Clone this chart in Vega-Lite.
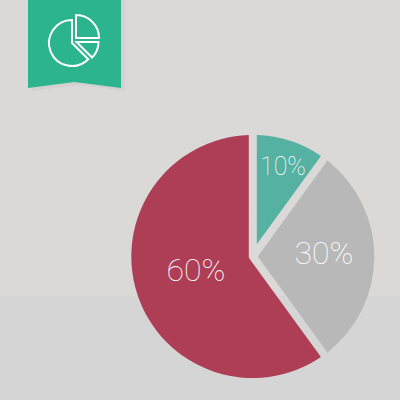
{
  "$schema": "https://vega.github.io/schema/vega-lite/v6.json",
  "description": "Pie chart 60/30/10 with ribbon icon",
  "width": 400,
  "height": 400,
  "padding": 0,
  "autosize": {"type": "fit", "contains": "padding"},
  "background": "#dad9d7",
  "config": {"view": {"stroke": null}},
  "datasets": {
    "shares": [
      {"label": "10%", "share": 10, "from": 0, "to": 10},
      {"label": "30%", "share": 30, "from": 10, "to": 40},
      {"label": "60%", "share": 60, "from": 40, "to": 100}
    ],
    "ribbon": [
      {"px": 28, "top": 0, "bottom": 88},
      {"px": 74.5, "top": 0, "bottom": 82},
      {"px": 121, "top": 0, "bottom": 88}
    ],
    "ribbonShadow": [
      {"px": 32, "top": 0, "bottom": 91},
      {"px": 78, "top": 0, "bottom": 85},
      {"px": 125, "top": 0, "bottom": 91}
    ]
  },
  "encoding": {
    "x": {"type": "quantitative", "scale": {"domain": [0, 400], "nice": false, "zero": false}, "axis": null},
    "y": {"type": "quantitative", "scale": {"domain": [400, 0], "nice": false, "zero": false}, "axis": null}
  },
  "layer": [
    {
      "data": {"values": [{"floor": "lower"}]},
      "mark": {"type": "rect", "color": "#d5d5d5"},
      "encoding": {
        "x": {"datum": 0},
        "x2": {"datum": 400},
        "y": {"datum": 296},
        "y2": {"datum": 400}
      }
    },
    {
      "data": {"name": "ribbonShadow"},
      "mark": {"type": "area", "orient": "vertical", "color": "#d2d1cf"},
      "encoding": {
        "x": {"field": "px"},
        "y": {"field": "top"},
        "y2": {"field": "bottom"}
      }
    },
    {
      "data": {"name": "ribbon"},
      "mark": {"type": "area", "orient": "vertical", "color": "#2cb48f"},
      "encoding": {
        "x": {"field": "px"},
        "y": {"field": "top"},
        "y2": {"field": "bottom"}
      }
    },
    {
      "data": {"values": [{"from": 37.5, "to": 100}]},
      "mark": {"type": "arc", "outerRadius": 23, "fill": "transparent", "stroke": "white", "strokeWidth": 2},
      "encoding": {
        "x": {"datum": 72},
        "y": {"datum": 43},
        "theta": {"field": "from", "type": "quantitative", "scale": {"domain": [0, 100], "range": [0, 6.2832]}},
        "theta2": {"field": "to"}
      }
    },
    {
      "data": {"values": [{"from": 0, "to": 25}]},
      "mark": {"type": "arc", "outerRadius": 23, "fill": "transparent", "stroke": "white", "strokeWidth": 2},
      "encoding": {
        "x": {"datum": 76},
        "y": {"datum": 38},
        "theta": {"field": "from", "type": "quantitative", "scale": {"domain": [0, 100], "range": [0, 6.2832]}},
        "theta2": {"field": "to"}
      }
    },
    {
      "data": {"values": [{"from": 25, "to": 37.5}]},
      "mark": {"type": "arc", "outerRadius": 22, "fill": "transparent", "stroke": "white", "strokeWidth": 2},
      "encoding": {
        "x": {"datum": 76.5},
        "y": {"datum": 42},
        "theta": {"field": "from", "type": "quantitative", "scale": {"domain": [0, 100], "range": [0, 6.2832]}},
        "theta2": {"field": "to"}
      }
    },
    {
      "data": {"name": "shares"},
      "transform": [{"filter": "datum.share == 10"}],
      "mark": {"type": "arc", "outerRadius": 121.5, "innerRadius": 13, "padAngle": 0.066, "color": "#55b1a2"},
      "encoding": {
        "x": {"datum": 252.8},
        "y": {"datum": 256.5},
        "theta": {"field": "from", "type": "quantitative", "scale": {"domain": [0, 100], "range": [0, 6.2832]}},
        "theta2": {"field": "to"}
      }
    },
    {
      "data": {"name": "shares"},
      "transform": [{"filter": "datum.share == 30"}],
      "mark": {"type": "arc", "outerRadius": 121.5, "innerRadius": 5, "padAngle": 0.066, "color": "#b8b8b8"},
      "encoding": {
        "x": {"datum": 252.8},
        "y": {"datum": 256.5},
        "theta": {"field": "from", "type": "quantitative", "scale": {"domain": [0, 100], "range": [0, 6.2832]}},
        "theta2": {"field": "to"}
      }
    },
    {
      "data": {"name": "shares"},
      "transform": [{"filter": "datum.share == 60"}],
      "mark": {"type": "arc", "outerRadius": 121.5, "innerRadius": 4.05, "padAngle": 0.066, "color": "#ae3e55"},
      "encoding": {
        "x": {"datum": 252.8},
        "y": {"datum": 256.5},
        "theta": {"field": "from", "type": "quantitative", "scale": {"domain": [0, 100], "range": [0, 6.2832]}},
        "theta2": {"field": "to"}
      }
    },
    {
      "data": {"name": "shares"},
      "transform": [{"filter": "datum.share == 10"}],
      "mark": {"type": "text", "font": "Roboto", "fontWeight": 100, "fontSize": 25, "color": "white"},
      "encoding": {"x": {"datum": 283}, "y": {"datum": 167}, "text": {"field": "label"}}
    },
    {
      "data": {"name": "shares"},
      "transform": [{"filter": "datum.share == 30"}],
      "mark": {"type": "text", "font": "Roboto", "fontWeight": 100, "fontSize": 32, "color": "white"},
      "encoding": {"x": {"datum": 324}, "y": {"datum": 254}, "text": {"field": "label"}}
    },
    {
      "data": {"name": "shares"},
      "transform": [{"filter": "datum.share == 60"}],
      "mark": {"type": "text", "font": "Roboto", "fontWeight": 100, "fontSize": 32, "color": "white"},
      "encoding": {"x": {"datum": 196}, "y": {"datum": 271}, "text": {"field": "label"}}
    }
  ],
  "resolve": {"scale": {"theta": "independent"}}
}
